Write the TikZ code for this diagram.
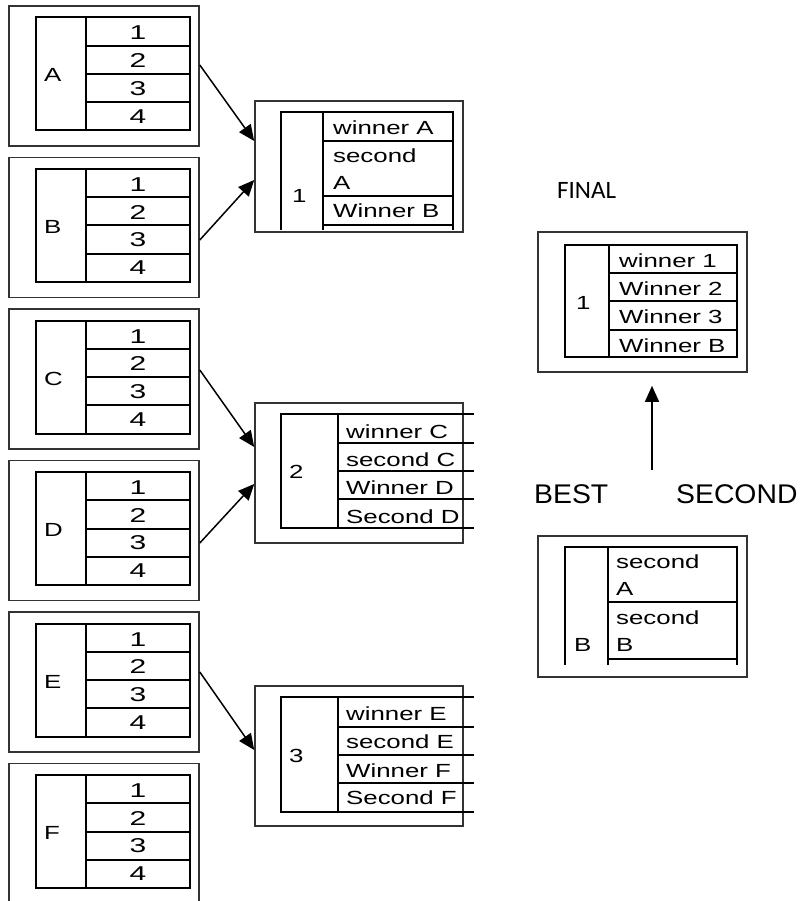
\documentclass[tikz,border=0pt]{standalone}
\usepackage{fontspec}
\setmainfont{Liberation Sans}
\newfontfamily\wf{Liberation Sans}[FakeStretch=1.36]
\newfontfamily\wfd{Liberation Sans}[FakeStretch=1.5]
\newfontfamily\bigf{Liberation Sans}[FakeStretch=1.05]
\newfontfamily\finf{Carlito}
\usetikzlibrary{arrows.meta}
\begin{document}
\begin{tikzpicture}[x=1pt,y=-1pt,
  outerbox/.style={draw=black!80,line width=1.6pt,inner sep=0pt},
  tab/.style={line width=2pt,line cap=rect},
  txt/.style={inner sep=0pt,anchor=base west,font=\wf\fontsize{19}{27}\selectfont,align=left},
  dig/.style={inner sep=0pt,anchor=base,font=\wfd\fontsize{20}{22}\selectfont},
  arr/.style={line width=1.5pt,-{Triangle[length=16pt,width=14pt]}}]
\useasboundingbox (0,0) rectangle (802,901);
% left groups
\foreach \L/\t in {A/6,B/157.5,C/309,D/460.5,E/612,F/763.5}{
  \node[outerbox,minimum width=190pt,minimum height=140pt] (out\L) at (104,\t+70) {};
  \node[draw,line width=2pt,inner sep=0pt,minimum width=154pt,minimum height=113pt] (tab\L) at (113,\t+68) {};
  \draw[tab] (85.5,\t+11.5) -- (85.5,\t+124.5);
  \foreach \r in {1,2,3}{\draw[tab] (85.5,\t+11.5+28.25*\r) -- (190,\t+11.5+28.25*\r);}
  \node[txt] (lab\L) at (44,\t+76) {\L};
  \foreach \r in {1,2,3,4}{\node[dig] (d\L\r) at (138,\t+34+27.7*\r-27.7) {\r};}
}
% group 1
\node[outerbox,minimum width=208pt,minimum height=131pt] (g1) at (359,166.5) {};
\draw[tab] (281,229) -- (281,112) -- (453,112) -- (453,229);
\draw[tab] (323,112) -- (323,229);
\foreach \y in {141,196,225}{\draw[tab] (323,\y) -- (453,\y);}
\node[txt] (g1l) at (292,203) {1};
\node[txt] (g1a) at (333,135) {winner A};
\node[txt] (g1b) at (333,190) {second\\A};
\node[txt] (g1c) at (333,218) {Winner B};
% group 2
\node[outerbox,minimum width=208pt,minimum height=140pt] (g2) at (359,473) {};
\draw[tab] (473,414) -- (281,414) -- (281,528) -- (473,528);
\draw[tab] (338,414) -- (338,528);
\foreach \y in {443,471,499}{\draw[tab] (338,\y) -- (473,\y);}
\node[txt] (g2l) at (289,478) {2};
\node[txt] (g2a) at (346,438) {winner C};
\node[txt] (g2b) at (346,466) {second C};
\node[txt] (g2c) at (346,494) {Winner D};
\node[txt] (g2d) at (346,523) {Second D};
% group 3
\node[outerbox,minimum width=208pt,minimum height=140pt] (g3) at (359,756) {};
\draw[tab] (473,697) -- (281,697) -- (281,812) -- (473,812);
\draw[tab] (338,697) -- (338,812);
\foreach \y in {727,755,783}{\draw[tab] (338,\y) -- (473,\y);}
\node[txt] (g3l) at (289,762) {3};
\node[txt] (g3a) at (346,720) {winner E};
\node[txt] (g3b) at (346,748) {second E};
\node[txt] (g3c) at (346,777) {Winner F};
\node[txt] (g3d) at (346,804) {Second F};
% final
\node[inner sep=0pt,anchor=base west,font=\finf\fontsize{25}{30}\selectfont] (final) at (557,199) {FINAL};
\node[outerbox,minimum width=209pt,minimum height=140pt] (fin) at (642.5,302) {};
\draw[tab] (565,245) rectangle (737,357);
\draw[tab] (609,245) -- (609,357);
\foreach \y in {273,301,330}{\draw[tab] (609,\y) -- (737,\y);}
\node[txt] (fl) at (576,309) {1};
\node[txt] (fa) at (619,267) {winner 1};
\node[txt] (fb) at (619,295) {Winner 2};
\node[txt] (fc) at (619,323) {Winner 3};
\node[txt] (fd) at (619,352) {Winner B};
% best second
\node[inner sep=0pt,anchor=base west,font=\bigf\fontsize{27}{32}\selectfont] (best) at (534,503) {BEST};
\node[inner sep=0pt,anchor=base west,font=\bigf\fontsize{27}{32}\selectfont] (second) at (676,503) {SECOND};
% B box
\node[outerbox,minimum width=209pt,minimum height=141pt] (bb) at (642.5,606.5) {};
\draw[tab] (565,664) -- (565,547) -- (737,547) -- (737,664);
\draw[tab] (608,547) -- (608,664);
\foreach \y in {602,659}{\draw[tab] (608,\y) -- (737,\y);}
\node[txt] (bl) at (574,651) {B};
\node[txt] (ba) at (616,595) {second\\A};
\node[txt] (bbb) at (616,651) {second\\B};
% arrows
\draw[arr] ([yshift=11pt]outA.east) -- ([yshift=25.5pt]g1.west);
\draw[arr] ([yshift=-12.5pt]outB.east) -- ([yshift=-13.5pt]g1.west);
\draw[arr] ([yshift=9pt]outC.east) -- ([yshift=26pt]g2.west);
\draw[arr] ([yshift=-12.5pt]outD.east) -- ([yshift=-11pt]g2.west);
\draw[arr] ([yshift=10pt]outE.east) -- ([yshift=6pt]g3.west);
\coordinate (up0) at (652,470);
\draw[arr] (up0) -- ([xshift=9.5pt,yshift=-13pt]fin.south);
\end{tikzpicture}
\end{document}
